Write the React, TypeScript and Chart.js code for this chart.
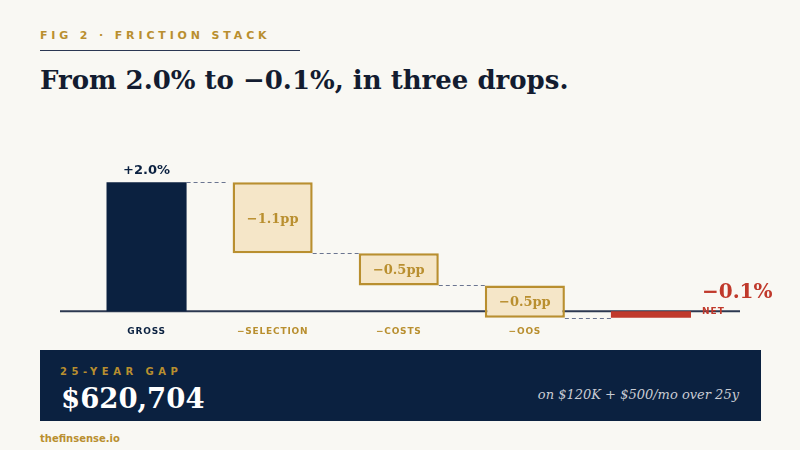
import { Chart, registerables } from "chart.js";
import { useEffect, useRef } from "react";

Chart.register(...registerables);

const categories = ["GROSS", "−SELECTION", "−COSTS", "−OOS", "NET"];
const changes = [2.0, -1.1, -0.5, -0.5];
const netValue = -0.1;
const valueLabels = ["+2.0%", "−1.1pp", "−0.5pp", "−0.5pp", "−0.1%"];

const BG = "#f9f8f3";
const NAVY = "#0b2140";
const GOLD = "#b98f2f";
const BOX = "#f5e6c8";
const RED = "#c0392b";
const INK = "#131c30";

const SANS = "'DejaVu Sans', sans-serif";
const SERIF = "'DejaVu Serif', serif";

// floating ranges for the waterfall, built from the step changes
function buildRanges(): [number, number][] {
  const out: [number, number][] = [];
  let level = 0;
  changes.forEach((c) => {
    out.push([level, level + c]);
    level += c;
  });
  out.push([0, netValue]);
  return out;
}

const stackPlugin = {
  id: "stack",
  beforeDraw(chart: any) {
    chart.ctx.letterSpacing = "0.8px";
  },
  beforeDatasetsDraw(chart: any) {
    const { ctx } = chart;
    const x = chart.scales.x;
    const y = chart.scales.y;
    const meta = chart.getDatasetMeta(0);
    const y0 = y.getPixelForValue(0);
    ctx.save();
    // baseline
    ctx.strokeStyle = "#2c3850";
    ctx.lineWidth = 2;
    ctx.beginPath();
    ctx.moveTo(x.left - 23.5, y0);
    ctx.lineTo(x.right + 26, y0);
    ctx.stroke();
    // dashed connectors
    const ranges = buildRanges();
    ctx.strokeStyle = "#6b7590";
    ctx.lineWidth = 1;
    ctx.setLineDash([4, 3]);
    for (let i = 0; i < meta.data.length - 1; i++) {
      const a = meta.data[i];
      const b = meta.data[i + 1];
      const yy = Math.round(y.getPixelForValue(ranges[i][1])) + 0.5;
      ctx.beginPath();
      ctx.moveTo(a.x + a.width / 2, yy);
      ctx.lineTo(b.x - b.width / 2 - (i === 0 ? 4 : 0), yy);
      ctx.stroke();
    }
    ctx.restore();
  },
  afterDatasetsDraw(chart: any) {
    const { ctx } = chart;
    const meta = chart.getDatasetMeta(0);
    ctx.save();
    ctx.letterSpacing = "0px";
    meta.data.forEach((bar: any, i: number) => {
      const top = Math.min(bar.y, bar.base);
      const bottom = Math.max(bar.y, bar.base);
      if (i === 0) {
        ctx.font = `bold 13px ${SANS}`;
        ctx.fillStyle = NAVY;
        ctx.textAlign = "center";
        ctx.textBaseline = "alphabetic";
        ctx.fillText(valueLabels[i], bar.x, top - 8);
      } else if (i < meta.data.length - 1) {
        ctx.font = `bold 13px ${SERIF}`;
        ctx.fillStyle = GOLD;
        ctx.textAlign = "center";
        ctx.textBaseline = "middle";
        ctx.fillText(valueLabels[i], bar.x, (top + bottom) / 2 + 1.5);
      } else {
        const left = bar.x + bar.width / 2 + 11;
        ctx.font = `bold 20px ${SERIF}`;
        ctx.fillStyle = RED;
        ctx.textAlign = "left";
        ctx.textBaseline = "alphabetic";
        ctx.fillText(valueLabels[i], left, top - 13.5);
        ctx.font = `bold 9px ${SANS}`;
        ctx.letterSpacing = "1px";
        ctx.textBaseline = "middle";
        ctx.fillText(categories[i], left, top + 0.5);
      }
    });
    ctx.restore();
  },
};

function FrictionChart() {
  const canvasRef = useRef<HTMLCanvasElement | null>(null);

  useEffect(() => {
    if (!canvasRef.current) return;
    const ranges = buildRanges();
    const last = ranges.length - 1;
    const chart = new Chart(canvasRef.current, {
      type: "bar",
      data: {
        labels: categories,
        datasets: [
          {
            data: ranges,
            backgroundColor: ranges.map((_, i) => (i === 0 ? NAVY : i === last ? RED : BOX)),
            borderColor: ranges.map((_, i) => (i === 0 ? NAVY : i === last ? RED : GOLD)),
            borderWidth: ranges.map((_, i) => (i === 0 || i === last ? 0 : 2.5)),
            borderSkipped: false,
            categoryPercentage: 1,
            barPercentage: 0.635,
          },
        ],
      },
      options: {
        animation: false,
        responsive: false,
        maintainAspectRatio: false,
        layout: { padding: { left: 83.5, right: 86, top: 0, bottom: 0 } },
        plugins: { legend: { display: false }, tooltip: { enabled: false } },
        scales: {
          x: {
            grid: { display: false },
            border: { display: false },
            afterFit: (scale: any) => {
              scale.height = 30;
            },
            ticks: {
              padding: -1,
              font: { family: SANS, size: 9, weight: "bold" },
              color: (ctx: any) => (ctx.index === 0 ? NAVY : GOLD),
              callback: (_v: any, i: number) => (i === last ? "" : categories[i]),
            },
          },
          y: {
            display: false,
            min: -0.12,
            max: 2.5,
          },
        },
      },
      plugins: [stackPlugin],
    });
    return () => chart.destroy();
  }, []);

  return (
    <canvas
      ref={canvasRef}
      width={800}
      height={199}
      style={{ position: "absolute", left: 0, top: 150, width: 800, height: 199 }}
    />
  );
}

export default function App() {
  const abs = (extra: React.CSSProperties): React.CSSProperties => ({
    position: "absolute",
    lineHeight: 1,
    whiteSpace: "nowrap",
    margin: 0,
    ...extra,
  });

  return (
    <div
      style={{
        position: "fixed",
        left: 0,
        top: 0,
        width: 800,
        height: 450,
        background: BG,
        overflow: "hidden",
      }}
    >
      <div
        style={abs({
          left: 40,
          top: 30,
          fontFamily: SANS,
          fontWeight: "bold",
          fontSize: 11,
          letterSpacing: 3.85,
          color: GOLD,
        })}
      >
        FIG 2 · FRICTION STACK
      </div>
      <div style={abs({ left: 40, top: 50, width: 260, height: 1, background: "#2b3752" })} />
      <div
        style={abs({
          left: 40,
          top: 67,
          fontFamily: SERIF,
          fontWeight: "bold",
          fontSize: 26,
          color: INK,
        })}
      >
        From 2.0% to −0.1%, in three drops.
      </div>

      <FrictionChart />

      <div style={abs({ left: 40, top: 350, width: 721, height: 71, background: NAVY })} />
      <div
        style={abs({
          left: 60,
          top: 366.5,
          fontFamily: SANS,
          fontWeight: "bold",
          fontSize: 10,
          letterSpacing: 4.5,
          color: GOLD,
        })}
      >
        25-YEAR GAP
      </div>
      <div
        style={abs({
          left: 61,
          top: 385,
          fontFamily: SERIF,
          fontWeight: "bold",
          fontSize: 27.5,
          color: "#ffffff",
        })}
      >
        $620,704
      </div>
      <div
        style={abs({
          right: 61,
          top: 388,
          fontFamily: SERIF,
          fontStyle: "italic",
          fontSize: 13,
          color: "#c9ccd3",
        })}
      >
        on $120K + $500/mo over 25y
      </div>
      <div
        style={abs({
          left: 40,
          top: 433.5,
          fontFamily: SANS,
          fontWeight: "bold",
          fontSize: 10,
          color: GOLD,
        })}
      >
        thefinsense.io
      </div>
    </div>
  );
}
